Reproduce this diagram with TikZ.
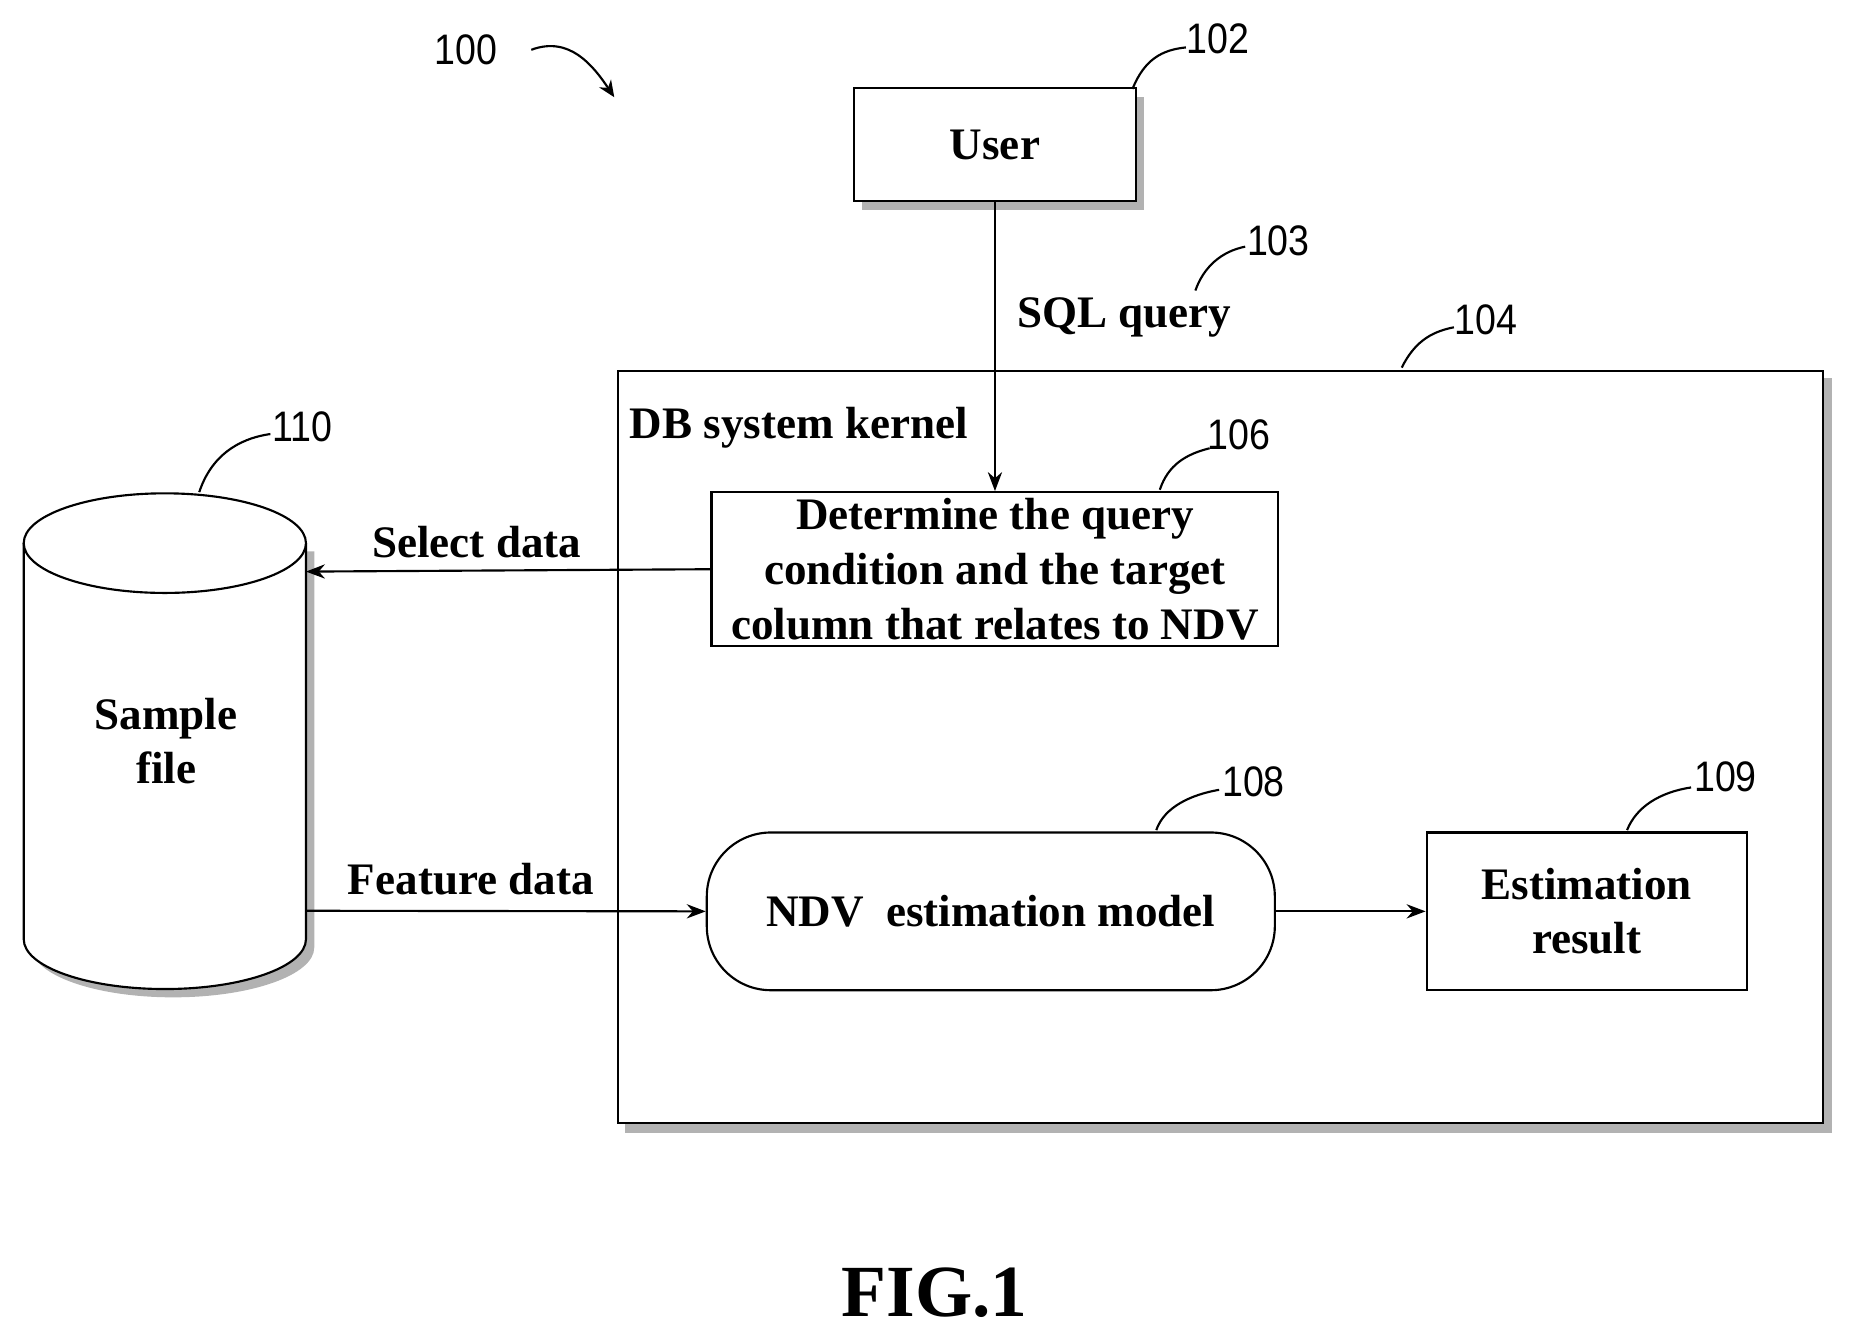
\documentclass[tikz,border=0pt]{standalone}
\usepackage{fontspec}
\setmainfont{Liberation Serif}
\newfontfamily\numf{Liberation Sans}
\usetikzlibrary{arrows.meta,shapes.geometric}
\begin{document}
\begin{tikzpicture}[x=0.5pt,y=-0.5pt,
  lbl/.style={font=\bfseries\fontsize{19}{23}\selectfont,align=center},
  num/.style={font=\numf\fontsize{18}{20}\selectfont,xscale=0.88},
  box/.style={draw,line width=0.9pt,fill=white},
  shad/.style={fill=black!30},
  lead/.style={line width=0.9pt},
  arr/.style={line width=0.9pt,-{Stealth[length=8pt,width=6pt]}}]
\useasboundingbox (0,0) rectangle (1560,1122);
% shadows
\fill[shad] (527,319) rectangle (1545,955);
\fill[shad] (727,82) rectangle (965,177);
\fill[shad] (607,422) rectangle (1085,552);
\fill[shad,rounded corners=27pt] (603,709) rectangle (1082,842);
\fill[shad] (1210,709) rectangle (1480,842);
\fill[shad] (27,465) -- (27,799) arc[start angle=180,end angle=0,x radius=119,y radius=42] -- (265,465) -- cycle;
% big box
\node[box,minimum width=508pt,minimum height=317pt,anchor=north west] (k) at (520,312) {};
\node[lbl,anchor=north west] (kl) at (524,336) {DB system kernel};
% user
\node[box,minimum width=119pt,minimum height=47.5pt,lbl] (u) at (839,122) {User};
% 106
\node[box,minimum width=239pt,minimum height=65pt,inner sep=1pt,lbl] (d) at (839,480) {Determine the query\\condition and the target\\column that relates to NDV};
% 108
\node[box,rounded corners=27pt,minimum width=239.5pt,minimum height=66.5pt,lbl] (m) at (835.5,768.5) {NDV\ \ estimation model};
% 109
\node[box,minimum width=135pt,minimum height=66.5pt,lbl] (e) at (1338,768.5) {Estimation\\result};
% cylinder
\draw[line width=0.9pt,fill=white] (20,458) -- (20,792) arc[start angle=180,end angle=0,x radius=119,y radius=42] -- (258,458);
\draw[line width=0.9pt,fill=white] (139,458) ellipse[x radius=119,y radius=42];
\node[lbl] (s) at (140,625) {Sample\\file};
\coordinate (cs) at (258,482);
\coordinate (cf) at (258,768);
% arrows
\draw[arr] (u.south) -- (d.north);
\draw[arr] (d.west) -- (cs);
\draw[arr] (cf) -- (m.west);
\draw[arr] (m.east) -- (e.west);
\node[lbl] (q) at (948,268) {SQL query};
\node[lbl] (sd) at (402,457) {Select data};
\node[lbl] (fd) at (397,741) {Feature data};
\node[font=\bfseries\fontsize{31}{34}\selectfont] (fig) at (788,1090) {FIG.1};
% numbers
\node[num] (n100) at (393,42) {100};
\node[num] (n102) at (1027,33) {102};
\node[num] (n103) at (1078,203) {103};
\node[num] (n104) at (1253,270) {104};
\node[num] (n106) at (1045,367) {106};
\node[num] (n108) at (1057,659) {108};
\node[num] (n109) at (1455,655) {109};
\node[num] (n110) at (255,360) {110};
\draw[lead,-{Stealth[length=7pt,width=6pt]}] (448,42) .. controls (480,30) and (500,55) .. (518,82);
\draw[lead] (955,75) .. controls (965,50) and (980,42) .. (1000,40);
\draw[lead] (1008,245) .. controls (1015,225) and (1030,212) .. (1050,208);
\draw[lead] (1182,310) .. controls (1192,290) and (1205,280) .. (1226,276);
\draw[lead] (978,413) .. controls (985,392) and (1000,383) .. (1020,378);
\draw[lead] (975,700) .. controls (982,680) and (1005,670) .. (1028,666);
\draw[lead] (1372,700) .. controls (1380,680) and (1400,668) .. (1426,664);
\draw[lead] (168,415) .. controls (178,385) and (200,370) .. (228,366);
\end{tikzpicture}
\end{document}
